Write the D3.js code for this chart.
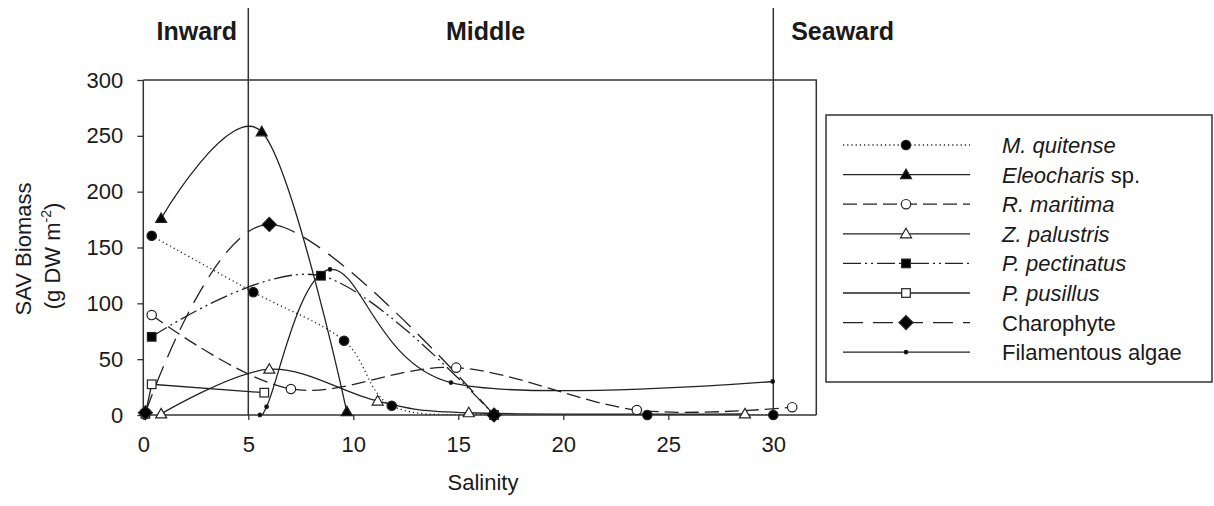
<!DOCTYPE html>
<html><head><meta charset="utf-8">
<script src="https://cdn.jsdelivr.net/npm/d3@7"></script>
<style>body{margin:0;background:#fff}svg text{font-family:"Liberation Sans",Arial,sans-serif;fill:#1a1a1a}</style>
</head><body><svg id="c" width="1214" height="506"></svg>
<script>
// ---- data ----
const xTicks = [0, 5, 10, 15, 20, 25, 30];
const yTicks = [0, 50, 100, 150, 200, 250, 300];
const zoneNames = ["Inward", "Middle", "Seaward"];
const zoneCenters = [2.55, 16.3, 33.3];
const zoneBounds = [5, 30];

const mqSal = [0.4, 5.24, 9.56, 11.83, 16.7, 24.0, 30.0];
const mqBio = [160.5, 110, 66.5, 8.3, 0, 0, 0];
const elSal = [0.85, 5.64, 9.69];
const elBio = [176, 253.6, 3];
const rmSal = [0.4, 7.03, 14.9, 23.5, 30.9];
const rmBio = [89.5, 23.3, 42.4, 4.5, 7];
const zpSal = [0.85, 6.0, 11.16, 15.5, 28.65];
const zpBio = [1, 41, 12.5, 2, 1];
const ppSal = [0.4, 8.46, 16.7];
const ppBio = [70, 124.7, 0];
const pusSal = [0.1, 0.4, 5.76];
const pusBio = [1, 27.5, 20];
const chSal = [0.1, 6.0, 16.7];
const chBio = [2, 170.7, 0];
const faSal = [5.55, 5.87, 8.89, 14.65, 29.97];
const faBio = [0, 7.4, 130.4, 29, 30];

const series = [
  {name:[["M. quitense",true]], sal:mqSal, bio:mqBio, dash:"1.2,3", marker:"circle", fill:"#000", curve:"card"},
  {name:[["Eleocharis",true],[" sp.",false]], sal:elSal, bio:elBio, dash:null, marker:"triangle", fill:"#000", curve:"card"},
  {name:[["R. maritima",true]], sal:rmSal, bio:rmBio, dash:"14,6", marker:"circle", fill:"#fff", curve:"card"},
  {name:[["Z. palustris",true]], sal:zpSal, bio:zpBio, dash:null, marker:"triangle", fill:"#fff", curve:"card"},
  {name:[["P. pectinatus",true]], sal:ppSal, bio:ppBio, dash:"18,4,2,4,2,4", marker:"square", fill:"#000", curve:"card"},
  {name:[["P. pusillus",true]], sal:pusSal, bio:pusBio, dash:null, marker:"square", fill:"#fff", curve:"linear"},
  {name:[["Charophyte",false]], sal:chSal, bio:chBio, dash:"20,10", marker:"diamond", fill:"#000", curve:"card"},
  {name:[["Filamentous algae",false]], sal:faSal, bio:faBio, dash:null, marker:"dot", fill:"#000", curve:"card"}
];

// ---- layout ----
const svg = d3.select("#c");
const L = 143.3, R = 815.3, T = 80, B = 415;
const x = d3.scaleLinear().domain([0, 32]).range([L, R]);
const y = d3.scaleLinear().domain([0, 300]).range([B, T]);
const ink = "#222";

svg.append("defs").append("clipPath").attr("id","pc").append("rect")
  .attr("x", L).attr("y", T - 5).attr("width", R - L + 1).attr("height", B - T + 5);

// frame (top + right)
svg.append("path").attr("d", `M${L},${T}H${R+1}V${B}`).attr("fill","none").attr("stroke","#333").attr("stroke-width",1.5);

// axes
const yAxis = svg.append("g").attr("transform",`translate(${L},0)`)
  .call(d3.axisLeft(y).tickValues(yTicks).tickSize(6).tickPadding(14));
const xAxis = svg.append("g").attr("transform",`translate(0,${B})`)
  .call(d3.axisBottom(x).tickValues(xTicks).tickSize(5).tickPadding(16));
[yAxis, xAxis].forEach(g => {
  g.select(".domain").attr("stroke","#333").attr("stroke-width",1.5);
  g.selectAll(".tick line").attr("stroke","#333").attr("stroke-width",1.3);
  g.selectAll(".tick text").attr("font-size",22).attr("fill","#1a1a1a")
    .attr("font-family",'"Liberation Sans",Arial,sans-serif');
});
xAxis.select(".domain").attr("d", `M${L},0H${R+1}`);
yAxis.select(".domain").attr("d", `M0,${T}V${B}`);

// zone boundaries
zoneBounds.forEach(v => {
  svg.append("line").attr("x1", x(v)).attr("x2", x(v)).attr("y1", 8).attr("y2", B)
    .attr("stroke","#333").attr("stroke-width",1.5);
});
zoneNames.forEach((n,i) => {
  svg.append("text").attr("x", x(zoneCenters[i])).attr("y", 40).attr("text-anchor","middle")
    .attr("font-size",25).attr("font-weight","bold").text(n);
});

// axis titles
svg.append("text").attr("x", 483).attr("y", 490).attr("text-anchor","middle").attr("font-size",22).text("Salinity");
const yt = svg.append("g").attr("transform","translate(31,249) rotate(-90)");
yt.append("text").attr("text-anchor","middle").attr("font-size",22).text("SAV Biomass");
const yt2 = svg.append("g").attr("transform","translate(60,256) rotate(-90)");
const t2 = yt2.append("text").attr("text-anchor","middle").attr("font-size",22);
t2.append("tspan").text("(g DW m");
t2.append("tspan").attr("font-size",14).attr("dy",-9).text("-2");
t2.append("tspan").attr("dy",9).text(")");

// markers
function drawMarker(g, type, cx, cy, fill) {
  const s = {stroke: ink, "stroke-width": 1.2};
  let el;
  if (type === "circle") el = g.append("circle").attr("cx",cx).attr("cy",cy).attr("r",4.7);
  else if (type === "triangle") el = g.append("path").attr("d", `M${cx},${cy-5.5}L${cx+5.5},${cy+4}L${cx-5.5},${cy+4}Z`);
  else if (type === "square") el = g.append("rect").attr("x",cx-4.3).attr("y",cy-4.3).attr("width",8.6).attr("height",8.6);
  else if (type === "diamond") el = g.append("path").attr("d", `M${cx},${cy-7}L${cx+7},${cy}L${cx},${cy+7}L${cx-7},${cy}Z`);
  else el = g.append("circle").attr("cx",cx).attr("cy",cy).attr("r",1.8);
  el.attr("fill", fill);
  Object.entries(s).forEach(([k,v]) => el.attr(k,v));
}

const lines = svg.append("g").attr("clip-path","url(#pc)");
const marks = svg.append("g");
series.forEach(s => {
  const pts = s.sal.map((v,i) => [v, s.bio[i]]);
  const gen = d3.line().x(d => x(d[0])).y(d => y(d[1]))
    .curve(s.curve === "linear" ? d3.curveLinear : d3.curveCardinal.tension(0));
  lines.append("path").attr("d", gen(pts)).attr("fill","none").attr("stroke",ink)
    .attr("stroke-width",1.3).attr("stroke-dasharray", s.dash);
});
series.forEach(s => {
  s.sal.forEach((v,i) => drawMarker(marks, s.marker, x(v), y(s.bio[i]), s.fill));
});

// legend
const lg = svg.append("g");
lg.append("rect").attr("x",826).attr("y",115).attr("width",386).attr("height",267)
  .attr("fill","#fff").attr("stroke","#333").attr("stroke-width",1.5);
series.forEach((s,i) => {
  const ly = 145 + i * 29.6;
  lg.append("line").attr("x1",843).attr("x2",970).attr("y1",ly).attr("y2",ly)
    .attr("stroke",ink).attr("stroke-width",1.3).attr("stroke-dasharray", s.dash);
  drawMarker(lg, s.marker, 906, ly, s.fill);
  const t = lg.append("text").attr("x",1002).attr("y",ly+8).attr("font-size",22);
  s.name.forEach(([txt,it]) => t.append("tspan").attr("font-style", it ? "italic" : "normal").text(txt));
});
</script></body></html>
